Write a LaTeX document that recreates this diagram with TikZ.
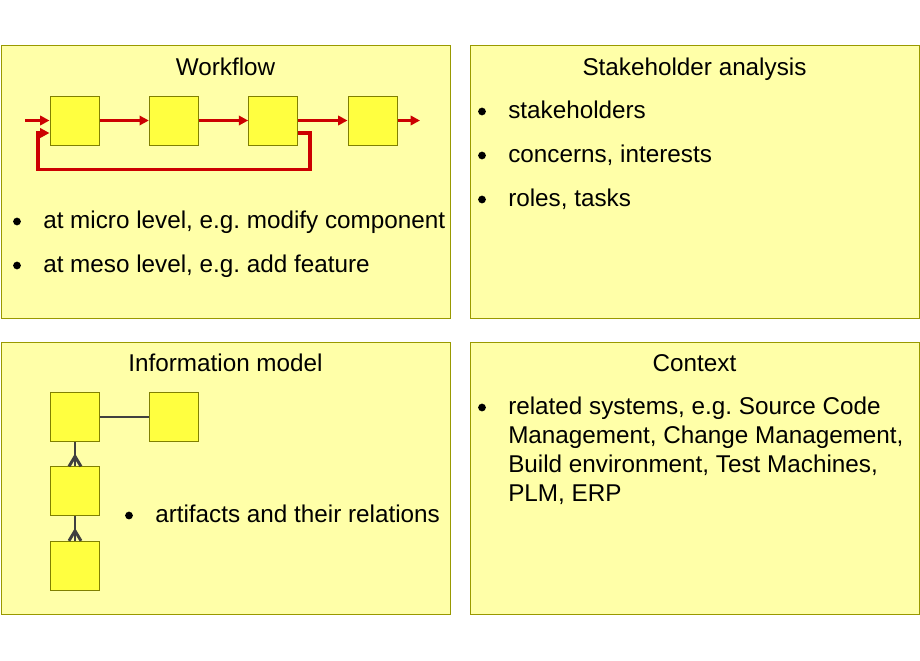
\documentclass[tikz,border=0pt]{standalone}
\usepackage{fontspec}
\setmainfont{Liberation Sans}
\frenchspacing
\usetikzlibrary{arrows.meta,positioning,calc}
\definecolor{panelfill}{HTML}{FFFFA8}
\definecolor{panelline}{HTML}{999900}
\definecolor{boxfill}{HTML}{FFFF40}
\definecolor{boxline}{HTML}{808000}
\definecolor{flowred}{HTML}{CC0000}
\definecolor{linkgray}{HTML}{404040}
\tikzset{
  panel/.style={draw=panelline, fill=panelfill, line width=0.75pt},
  stepbox/.style={draw=boxline, fill=boxfill, line width=0.75pt,
    minimum size=36.75pt, inner sep=0pt},
  flow/.style={draw=flowred, line width=2.3pt,
    -{Triangle[length=7pt,width=7pt]}},
  link/.style={draw=linkgray, line width=2.2pt},
  title/.style={font=\fontsize{18.2}{22}\selectfont, anchor=base, inner sep=0pt},
  item/.style={font=\fontsize{18.2}{22}\selectfont, anchor=base west,
    inner sep=0pt},
}
\begin{document}
\begin{tikzpicture}[x=0.75pt, y=-0.75pt]
        % Canvas
        \useasboundingbox[fill=white] (0,0) rectangle (920,660);

        % Draw the four panels
        \foreach \px/\py in {1/46, 470/46, 1/342, 470/342}
            \draw[panel] (\px,\py) rectangle +(449,272);

        % Panel titles
        \node[title] (twf) at (225.5,75) {Workflow};
        \node[title] (tsa) at (694.5,75) {Stakeholder analysis};
        \node[title] (tim) at (225.5,371) {Information model};
        \node[title] (tcx) at (694.5,371) {Context};

        % Workflow steps
        \node[stepbox] (w1) at (74.5,120.5) {};
        \node[stepbox, right=37pt of w1] (w2) {};
        \node[stepbox, right=37pt of w2] (w3) {};
        \node[stepbox, right=37pt of w3] (w4) {};
        \coordinate (win) at (25,120.5);
        \coordinate (wout) at (420,120.5);

        % Workflow arrows
        \draw[flow] (win) -- (w1.west);
        \foreach \a/\b in {w1/w2, w2/w3, w3/w4}
            \draw[flow] (\a.east) -- (\b.west);
        \draw[flow] (w4.east) -- (wout);

        % Feedback loop from step 3 back to step 1
        \draw[flow]
            ($(w3.east)+(0,12.5)$) -| (310,169.5) -| (38,133)
            -- ($(w1.west)+(0,12.5)$);

        % Information model artifacts
        \node[stepbox] (m1) at (75,417) {};
        \node[stepbox, right=37pt of m1] (m2) {};
        \node[stepbox, below=18.3pt of m1] (m3) {};
        \node[stepbox, below=18.3pt of m3] (m4) {};

        % Relations (crow's foot at the many end)
        \draw[link] (m1.east) -- (m2.west);
        \foreach \a/\b in {m1/m3, m3/m4} {
            \draw[link] (\a.south) -- (\b.north);
            \draw[link] ($(\b.north)+(-6,0)$) -- ($(\b.north)+(0,-10)$)
                -- ($(\b.north)+(6,0)$);
        }

        % Bullet items
        \node[item] (wf1) at (43,228) {at micro level, e.g. modify component};
        \node[item] (wf2) at (43,272) {at meso level, e.g. add feature};
        \node[item] (sa1) at (508,118) {stakeholders};
        \node[item] (sa2) at (508,162) {concerns, interests};
        \node[item] (sa3) at (508,206) {roles, tasks};
        \node[item] (im1) at (155,522) {artifacts and their relations};
        \node[item] (cx1) at (508,414) {related systems, e.g. Source Code};

        % Continuation lines of the context item
        \foreach \t [count=\k] in {{Management, Change Management,},
            {Build environment, Test Machines,}, {PLM, ERP}}
            \node[item] (cx\k a) at (508,414+29.3*\k) {\t};

        % Bullet dots
        \foreach \n in {wf1, wf2, sa1, sa2, sa3, im1, cx1}
            \fill[black] ($(\n.base west)+(-26,-6.5)$) circle (2.9pt);
    \end{tikzpicture}
\end{document}
